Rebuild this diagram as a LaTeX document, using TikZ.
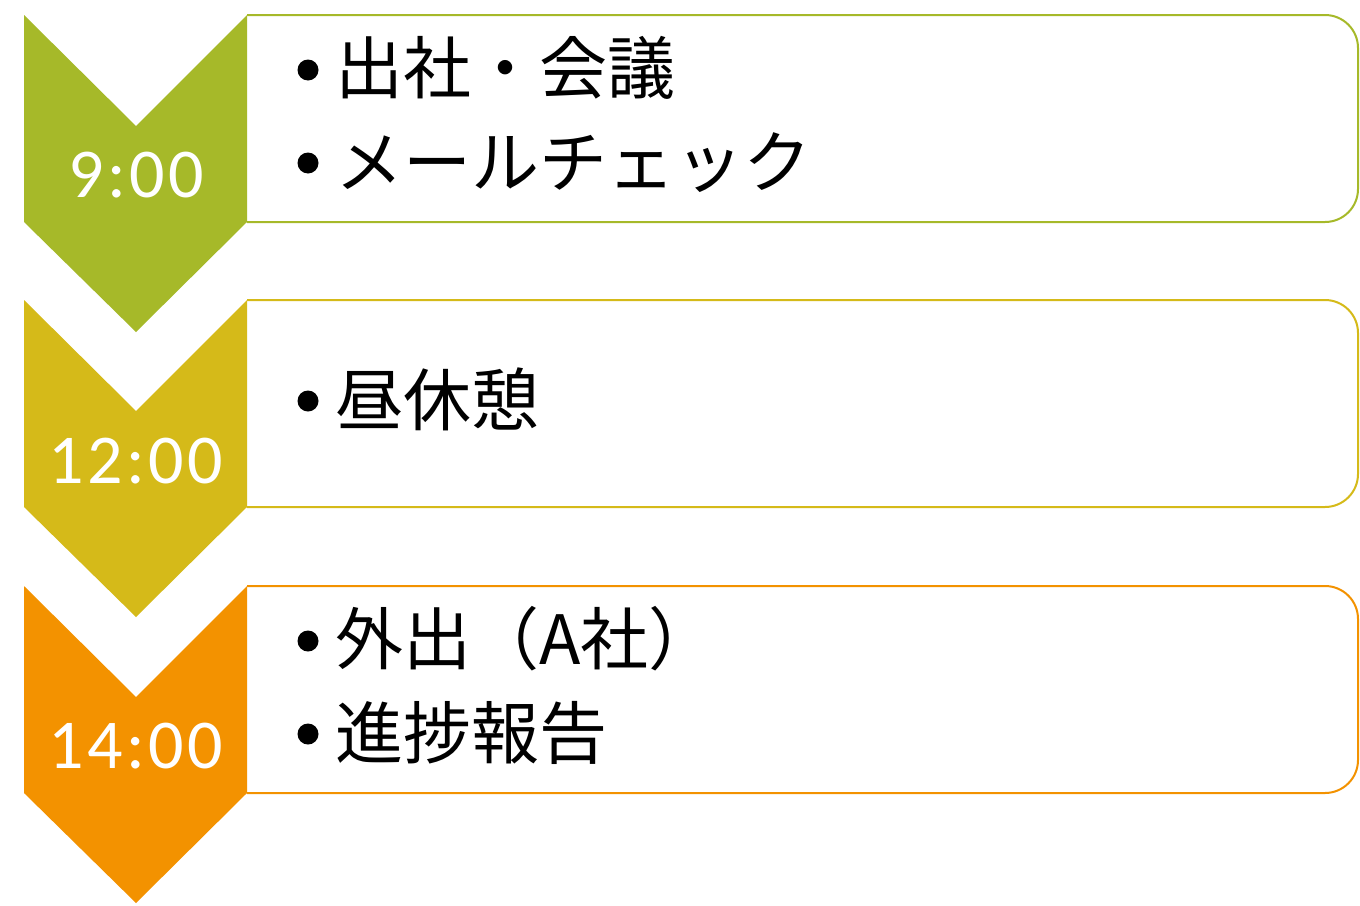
\documentclass[tikz,border=0pt]{standalone}
\usepackage{fontspec}
\setmainfont{Carlito}
\newfontfamily\timefont[LetterSpace=5]{Carlito}
\newfontfamily\jpfont{Noto Sans CJK JP}
\definecolor{cgreen}{RGB}{166,185,41}
\definecolor{cyellow}{RGB}{213,186,25}
\definecolor{corange}{RGB}{243,146,0}
\begin{document}
\begin{tikzpicture}[x=1pt,y=-1pt,
  itembox/.style={line width=2pt,rounded corners=33pt},
  timelabel/.style={anchor=base,inner sep=0pt,text=white,font=\timefont\fontsize{70}{70}\selectfont},
  itemtext/.style={anchor=west,inner sep=0pt,text height=58pt,text depth=8pt,font=\jpfont\fontsize{68}{68}\selectfont},
  bulletdot/.style={circle,fill=black,inner sep=0pt,minimum size=21pt}]
\useasboundingbox (0,0) rectangle (1360,905);
\fill[white] (0,0) rectangle (1360,905);
% boxes and chevrons
\foreach \T/\c in {15/cgreen,300/cyellow,586/corange}{
  \draw[itembox,\c] (247,\T) -- (1358,\T) -- (1358,\T+207) -- (247,\T+207);
  \fill[\c] (24,\T) -- (136,\T+111) -- (247,\T) -- (247,\T+207) -- (136,\T+317) -- (24,\T+207) -- cycle;
}
% time labels
\node[timelabel] (t1) at (136,197) {9:00};
\node[timelabel] (t2) at (136,483) {12:00};
\node[timelabel] (t3) at (136,768) {14:00};
% bullets
\node[bulletdot] (b1) at (308,70) {};
\node[bulletdot] (b2) at (308,163) {};
\node[bulletdot] (b3) at (308,401) {};
\node[bulletdot] (b4) at (308,641) {};
\node[bulletdot] (b5) at (308,734) {};
% texts
\node[itemtext] (i1) at (335,68) {出社・会議};
\node[itemtext] (i2) at (335,162) {メールチェック};
\node[itemtext] (i3) at (335,400) {昼休憩};
\node[itemtext] (i4) at (335,639) {外出（A社）};
\node[itemtext] (i5) at (335,733) {進捗報告};
\end{tikzpicture}
\end{document}
